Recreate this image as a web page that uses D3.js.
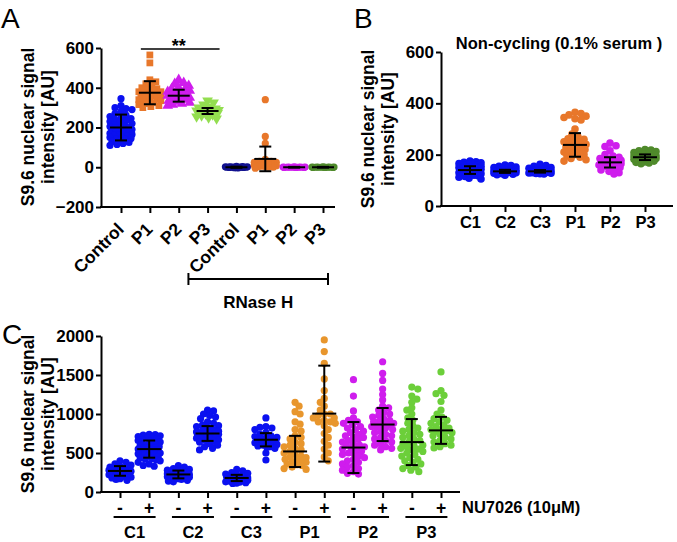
<!DOCTYPE html>
<html>
<head>
<meta charset="utf-8">
<script src="https://cdn.jsdelivr.net/npm/d3@7"></script>
<style>
  body { margin: 0; background: #fff; }
  text { font-family: "Liberation Sans", Arial, sans-serif; }
</style>
</head>
<body>
<svg id="fig" width="677" height="542"></svg>
<script>

// ---------- Panel A data ----------
let a_cats = ["Control", "P1", "P2", "P3", "Control ", "P1 ", "P2 ", "P3 "];
let a_ctrl = [345, 310, 300, 295, 290, 280, 270, 262, 255, 250, 245, 240, 235, 230, 225, 220, 215, 210, 205, 200, 198, 195, 190, 185, 180, 175, 170, 165, 160, 155, 150, 145, 140, 135, 130, 125, 120, 115, 110, 140, 150, 160, 170, 180, 190, 200];
let a_p1 = [565, 525, 440, 430, 420, 410, 400, 395, 390, 385, 380, 375, 370, 365, 360, 355, 350, 345, 340, 335, 330, 325, 320, 315, 310, 305, 300, 360, 340, 380];
let a_p2 = [440, 425, 420, 410, 400, 395, 390, 385, 380, 375, 370, 365, 360, 355, 350, 345, 340, 335, 330, 325, 320, 315, 310, 360, 350, 370];
let a_p3 = [335, 325, 315, 305, 300, 295, 290, 288, 285, 282, 280, 278, 275, 272, 270, 265, 260, 255, 250, 245, 285, 290, 280];
let a_rctrl = [4, 3, 2, 1, 0, 0, -1, -2, -3, 2, 1, 0, -1, 0, 1, 2, 0, -2, 1, 0];
let a_rp1 = [340, 155, 120, 40, 30, 25, 20, 15, 12, 10, 8, 5, 3, 0, 0, -5, 20, 10, 5, 30, 15, 25];
let a_rp2 = [2, 1, 0, 0, -1, 1, 0, -1, 0, 1, 0, -1, 0, 1, 0, 0];
let a_rp3 = [2, 1, 0, 0, -1, 1, 0, -1, 0, 1, 0, -1, 0, 1, 0, 0];
let a_mean = [200, 375, 360, 283, 0, 42, 0, 0];
let a_sd = [65, 58, 30, 15, 3, 62, 2, 2];
let a_yticks = [-200, 0, 200, 400, 600];

// ---------- Panel B data ----------
let b_cats = ["C1", "C2", "C3", "P1", "P2", "P3"];
let b_c1 = [175, 172, 170, 168, 165, 162, 160, 158, 155, 152, 150, 148, 145, 143, 140, 138, 136, 135, 133, 130, 128, 126, 124, 122, 120, 118, 115, 112, 108, 105, 140, 145, 150, 135, 130, 160, 155, 165];
let b_c2 = [160, 158, 155, 152, 150, 148, 145, 142, 140, 138, 136, 135, 134, 133, 132, 131, 130, 128, 126, 124, 122, 120, 135, 137, 139, 130];
let b_c3 = [162, 158, 155, 150, 147, 144, 141, 139, 137, 136, 135, 134, 133, 132, 131, 130, 129, 128, 127, 126, 125, 135, 138, 133];
let b_p1 = [365, 360, 355, 350, 345, 340, 335, 300, 280, 270, 262, 255, 250, 245, 240, 235, 230, 225, 220, 215, 210, 205, 200, 195, 190, 185, 180, 175, 240, 230, 220, 210, 200, 250, 260];
let b_p2 = [245, 235, 232, 215, 200, 195, 190, 185, 182, 180, 178, 175, 172, 170, 168, 165, 162, 160, 158, 155, 150, 145, 140, 135, 130, 125, 175, 165, 180, 160];
let b_p3 = [220, 218, 215, 212, 208, 205, 202, 200, 198, 196, 194, 192, 190, 188, 186, 184, 182, 180, 178, 175, 172, 170, 168, 165, 190, 195, 185];
let b_mean = [140, 135, 135, 238, 170, 190];
let b_sd = [15, 6, 5, 46, 20, 11];
let b_yticks = [0, 200, 400, 600];

// ---------- Panel C data ----------
let c_cats = ["C1-", "C1+", "C2-", "C2+", "C3-", "C3+", "P1-", "P1+", "P2-", "P2+", "P3-", "P3+"];
let c_groups = ["C1", "C2", "C3", "P1", "P2", "P3"];
let c_c1m = [400, 380, 360, 345, 330, 320, 310, 300, 295, 290, 285, 280, 275, 270, 265, 260, 255, 250, 245, 240, 235, 230, 225, 220, 210, 200, 190, 180, 170, 160, 150, 270, 280, 260];
let c_c1p = [740, 735, 730, 720, 710, 700, 690, 680, 670, 660, 650, 640, 620, 600, 590, 580, 570, 560, 550, 540, 530, 520, 510, 500, 490, 480, 470, 460, 450, 440, 430, 420, 410, 400, 380, 360, 340, 330, 560, 540, 500, 600];
let c_c2m = [340, 320, 300, 290, 280, 270, 260, 250, 245, 240, 235, 230, 225, 220, 215, 210, 205, 200, 195, 190, 185, 180, 170, 160, 150, 140, 130, 230, 220, 210];
let c_c2p = [1050, 1040, 1000, 980, 960, 940, 900, 880, 860, 850, 840, 820, 800, 790, 780, 770, 760, 750, 740, 730, 720, 710, 700, 690, 680, 670, 660, 650, 640, 620, 600, 580, 560, 540, 750, 760, 720, 700];
let c_c3m = [290, 270, 250, 240, 230, 220, 210, 205, 200, 195, 190, 185, 180, 175, 170, 165, 160, 155, 150, 145, 140, 135, 130, 125, 120, 115, 110, 180, 170, 160];
let c_c3p = [950, 840, 830, 820, 800, 760, 740, 720, 710, 700, 690, 680, 670, 660, 650, 640, 630, 620, 610, 600, 590, 580, 570, 560, 500, 410, 680, 660, 640];
let c_p1m = [1150, 1100, 1030, 1000, 900, 870, 800, 780, 720, 700, 680, 640, 620, 600, 580, 560, 540, 520, 500, 480, 460, 440, 420, 400, 380, 360, 340, 320, 300, 290, 450, 420, 390, 350];
let c_p1p = [1950, 1800, 1650, 1450, 1300, 1200, 1150, 1100, 1050, 1000, 980, 950, 920, 900, 880, 850, 800, 750, 700, 650, 600, 550, 500, 450, 400, 1000, 950, 900];
let c_p2m = [1440, 1230, 1040, 950, 920, 900, 880, 860, 840, 820, 800, 780, 760, 740, 720, 700, 680, 660, 640, 620, 600, 580, 560, 540, 520, 500, 480, 460, 440, 420, 400, 380, 360, 340, 320, 300, 280, 260, 240, 230, 600, 550, 500, 700];
let c_p2p = [1670, 1520, 1430, 1320, 1250, 1180, 1100, 1080, 1050, 1020, 1000, 980, 960, 940, 920, 900, 880, 860, 840, 820, 800, 780, 760, 740, 720, 700, 680, 660, 640, 620, 600, 580, 560, 540, 860, 880, 900, 840];
let c_p3m = [1345, 1320, 1230, 1190, 1150, 1080, 1050, 1000, 950, 920, 880, 850, 820, 800, 780, 760, 740, 720, 700, 680, 660, 640, 620, 600, 580, 560, 540, 520, 500, 480, 460, 440, 420, 400, 380, 360, 340, 320, 300, 280, 260, 600, 550];
let c_p3p = [1540, 1300, 1260, 1240, 1160, 1050, 1000, 960, 940, 920, 900, 880, 860, 840, 820, 800, 780, 760, 740, 720, 700, 680, 660, 640, 620, 600, 580, 565, 800, 780];
let c_mean = [270, 550, 225, 750, 180, 670, 520, 1005, 570, 865, 640, 790];
let c_sd = [62, 110, 50, 95, 40, 85, 200, 615, 327, 212, 295, 173];
let c_yticks = [0, 500, 1000, 1500, 2000];

// colours
let blue = "#0a10f0", orange = "#e8772a", magenta = "#cf1ded", lime = "#93de50",
    navy = "#12128f", dkgreen = "#4f8a2b", orangeC = "#e8962d", greenC = "#6ccf3a";

let svg = d3.select("#fig");

// simple beeswarm: spread points sideways so they do not pile up
function swarm(vals, y, cx, r, maxW) {
	let pts = vals.map(function(v){ return {v: v, py: y(v)}; })
	              .sort(function(a, b){ return a.py - b.py; });
	let placed = [];
	let minD = r * 1.5;
	pts.forEach(function(p, i) {
		let best = null, alt = 0, altScore = -1;
		for (let k = 0; k <= maxW && best === null; k++) {
			let cands = (i % 2) ? [k, -k] : [-k, k];
			for (let j = 0; j < 2; j++) {
				let dx = cands[j];
				let md = Infinity;
				placed.forEach(function(q){
					let d = Math.hypot(q.dx - dx, q.py - p.py);
					if (d < md) md = d;
				});
				if (md >= minD) { best = dx; break; }
				if (md > altScore) { altScore = md; alt = dx; }
			}
		}
		p.dx = best !== null ? best : alt;
		placed.push(p);
	});
	return pts.map(function(p){ return {x: cx + p.dx, y: p.py}; });
}

function drawGroup(g, vals, y, cx, opt) {
	let pts = swarm(vals, y, cx, opt.r, opt.maxW);
	let sym = d3.symbol().type(opt.shape || d3.symbolCircle).size(opt.size || Math.PI * opt.r * opt.r);
	g.append("g").selectAll("path")
		.data(pts).enter()
		.append("path")
			.attr("d", sym)
			.attr("transform", function(d){ return "translate(" + d.x + "," + d.y + ")" + (opt.flip ? " rotate(180)" : ""); })
			.attr("fill", opt.color);
}

function drawErr(g, mean, sd, y, cx, half, cap) {
	let e = g.append("g").attr("stroke", "#000").attr("stroke-width", 2);
	e.append("line").attr("x1", cx).attr("x2", cx).attr("y1", y(mean + sd)).attr("y2", y(mean - sd));
	e.append("line").attr("x1", cx - half).attr("x2", cx + half).attr("y1", y(mean)).attr("y2", y(mean));
	e.append("line").attr("x1", cx - cap).attr("x2", cx + cap).attr("y1", y(mean + sd)).attr("y2", y(mean + sd));
	e.append("line").attr("x1", cx - cap).attr("x2", cx + cap).attr("y1", y(mean - sd)).attr("y2", y(mean - sd));
}

function boldText(sel) {
	return sel.attr("font-size", 16.5).attr("font-weight", "bold").attr("fill", "#000")
		.attr("font-family", "Liberation Sans, Arial, sans-serif");
}

function yAxis(x0, y, ticks) {
	let ax = svg.append("g")
		.attr("transform", "translate(" + x0 + ",0)")
		.call(d3.axisLeft(y).tickValues(ticks).tickFormat(d3.format("d")).tickSize(5).tickSizeOuter(0).tickPadding(2));
	ax.selectAll("path, line").attr("stroke", "#000").attr("stroke-width", 2);
	boldText(ax.selectAll("text")).attr("font-size", 17);
	return ax;
}

function xAxis(x, y0, xl, xr, labels) {
	svg.append("line").attr("x1", xl - 1).attr("x2", xr).attr("y1", y0).attr("y2", y0)
		.attr("stroke", "#000").attr("stroke-width", 2);
	let ax = svg.append("g")
		.attr("transform", "translate(0," + y0 + ")")
		.call(d3.axisBottom(x).tickSize(6).tickSizeOuter(0).tickPadding(4));
	ax.select(".domain").remove();
	ax.selectAll("line").attr("stroke", "#000").attr("stroke-width", 2);
	boldText(ax.selectAll("text"));
	if (!labels) ax.selectAll("text").remove();
	return ax;
}

function label(x, y, s, anchor) {
	return boldText(svg.append("text").attr("x", x).attr("y", y).attr("text-anchor", anchor || "middle").text(s));
}

function yTitle(x1, x2, cy) {
	boldText(svg.append("text").attr("transform", "translate(" + x1 + "," + cy + ") rotate(-90)")
		.attr("text-anchor", "middle").text("S9.6 nuclear signal")).attr("font-size", 17.5);
	boldText(svg.append("text").attr("transform", "translate(" + x2 + "," + cy + ") rotate(-90)")
		.attr("text-anchor", "middle").text("intensity [AU]")).attr("font-size", 17.5);
}

function panelLetter(x, y, s) {
	svg.append("text").attr("x", x).attr("y", y).attr("font-size", 28)
		.attr("font-weight", "normal").text(s);
}

// ================= Panel A =================
let ya = d3.scaleLinear().domain([-200, 600]).range([207, 48]);
let xa = d3.scalePoint().domain(a_cats).range([121, 323]);
let ga = svg.append("g");
let a_sets = [
	{v: a_ctrl, color: blue},
	{v: a_p1, color: orange, shape: d3.symbolSquare, size: 46},
	{v: a_p2, color: magenta, shape: d3.symbolTriangle, size: 50},
	{v: a_p3, color: lime, shape: d3.symbolTriangle, size: 50, flip: true},
	{v: a_rctrl, color: navy},
	{v: a_rp1, color: orange},
	{v: a_rp2, color: magenta},
	{v: a_rp3, color: dkgreen}
];
a_sets.forEach(function(s, i) {
	drawGroup(ga, s.v, ya, xa(a_cats[i]), {r: 3.6, maxW: 11, color: s.color, shape: s.shape, size: s.size, flip: s.flip});
});
a_sets.forEach(function(s, i) {
	drawErr(ga, a_mean[i], a_sd[i], ya, xa(a_cats[i]), 11, 6);
});
yAxis(101, ya, a_yticks);
let axA = xAxis(xa, 207, 101, 335, true);
axA.selectAll("text")
	.attr("text-anchor", "end")
	.attr("dy", "0.35em")
	.attr("font-size", 17.5)
	.attr("transform", "translate(-1,19) rotate(-45)")
	.attr("y", 0).attr("x", 0);
yTitle(34, 54, 127);
panelLetter(1, 28, "A");

// significance bar
svg.append("line").attr("x1", xa("P1") - 9).attr("x2", xa("P3") + 12).attr("y1", 49).attr("y2", 49)
	.attr("stroke", "#000").attr("stroke-width", 1.5);
label((xa("P1") + xa("P3")) / 2, 52, "**").attr("font-size", 18);

// RNase H bracket
let bx1 = xa("Control ") - 48, bx2 = xa("P3 ") + 5;
let br = svg.append("g").attr("stroke", "#000").attr("stroke-width", 2);
br.append("line").attr("x1", bx1).attr("x2", bx2).attr("y1", 279).attr("y2", 279);
br.append("line").attr("x1", bx1).attr("x2", bx1).attr("y1", 273).attr("y2", 285);
br.append("line").attr("x1", bx2).attr("x2", bx2).attr("y1", 273).attr("y2", 285);
label((bx1 + bx2) / 2, 308, "RNase H").attr("font-size", 17);

// ================= Panel B =================
let yb = d3.scaleLinear().domain([0, 600]).range([206, 52]);
let xb = d3.scalePoint().domain(b_cats).range([470, 645]);
let gb = svg.append("g");
let b_sets = [b_c1, b_c2, b_c3, b_p1, b_p2, b_p3];
let b_cols = [blue, blue, blue, orange, magenta, dkgreen];
b_sets.forEach(function(v, i) {
	drawGroup(gb, v, yb, xb(b_cats[i]), {r: 3.8, maxW: 11, color: b_cols[i]});
});
b_sets.forEach(function(v, i) {
	drawErr(gb, b_mean[i], b_sd[i], yb, xb(b_cats[i]), 12, 6);
});
yAxis(441, yb, b_yticks);
xAxis(xb, 206, 441, 673, true);
yTitle(374, 394, 129);
panelLetter(354, 28, "B");
label(559, 49, "Non-cycling (0.1% serum )");

// ================= Panel C =================
let yc = d3.scaleLinear().domain([0, 2000]).range([492, 336]);
let xc = d3.scalePoint().domain(c_cats).range([120, 441]);
let gc = svg.append("g");
let c_sets = [c_c1m, c_c1p, c_c2m, c_c2p, c_c3m, c_c3p, c_p1m, c_p1p, c_p2m, c_p2p, c_p3m, c_p3p];
let c_cols = [blue, blue, blue, blue, blue, blue, orangeC, orangeC, magenta, magenta, greenC, greenC];
c_sets.forEach(function(v, i) {
	drawGroup(gc, v, yc, xc(c_cats[i]), {r: 3.6, maxW: 11, color: c_cols[i]});
});
c_sets.forEach(function(v, i) {
	drawErr(gc, c_mean[i], c_sd[i], yc, xc(c_cats[i]), 12, 6);
});
yAxis(101, yc, c_yticks);
xAxis(xc, 492, 101, 460, false);
// - / + labels
c_cats.forEach(function(d) {
	label(xc(d), 514, d.slice(-1)).attr("font-size", 17.5);
});
c_groups.forEach(function(gname) {
	let cx = (xc(gname + "-") + xc(gname + "+")) / 2;
	svg.append("line").attr("x1", cx - 21).attr("x2", cx + 21).attr("y1", 517).attr("y2", 517)
		.attr("stroke", "#000").attr("stroke-width", 2);
	label(cx, 538, gname);
});
label(462, 513, "NU7026 (10μM)", "start");
yTitle(34, 54, 414);
panelLetter(2, 344, "C");

</script>
</body>
</html>
